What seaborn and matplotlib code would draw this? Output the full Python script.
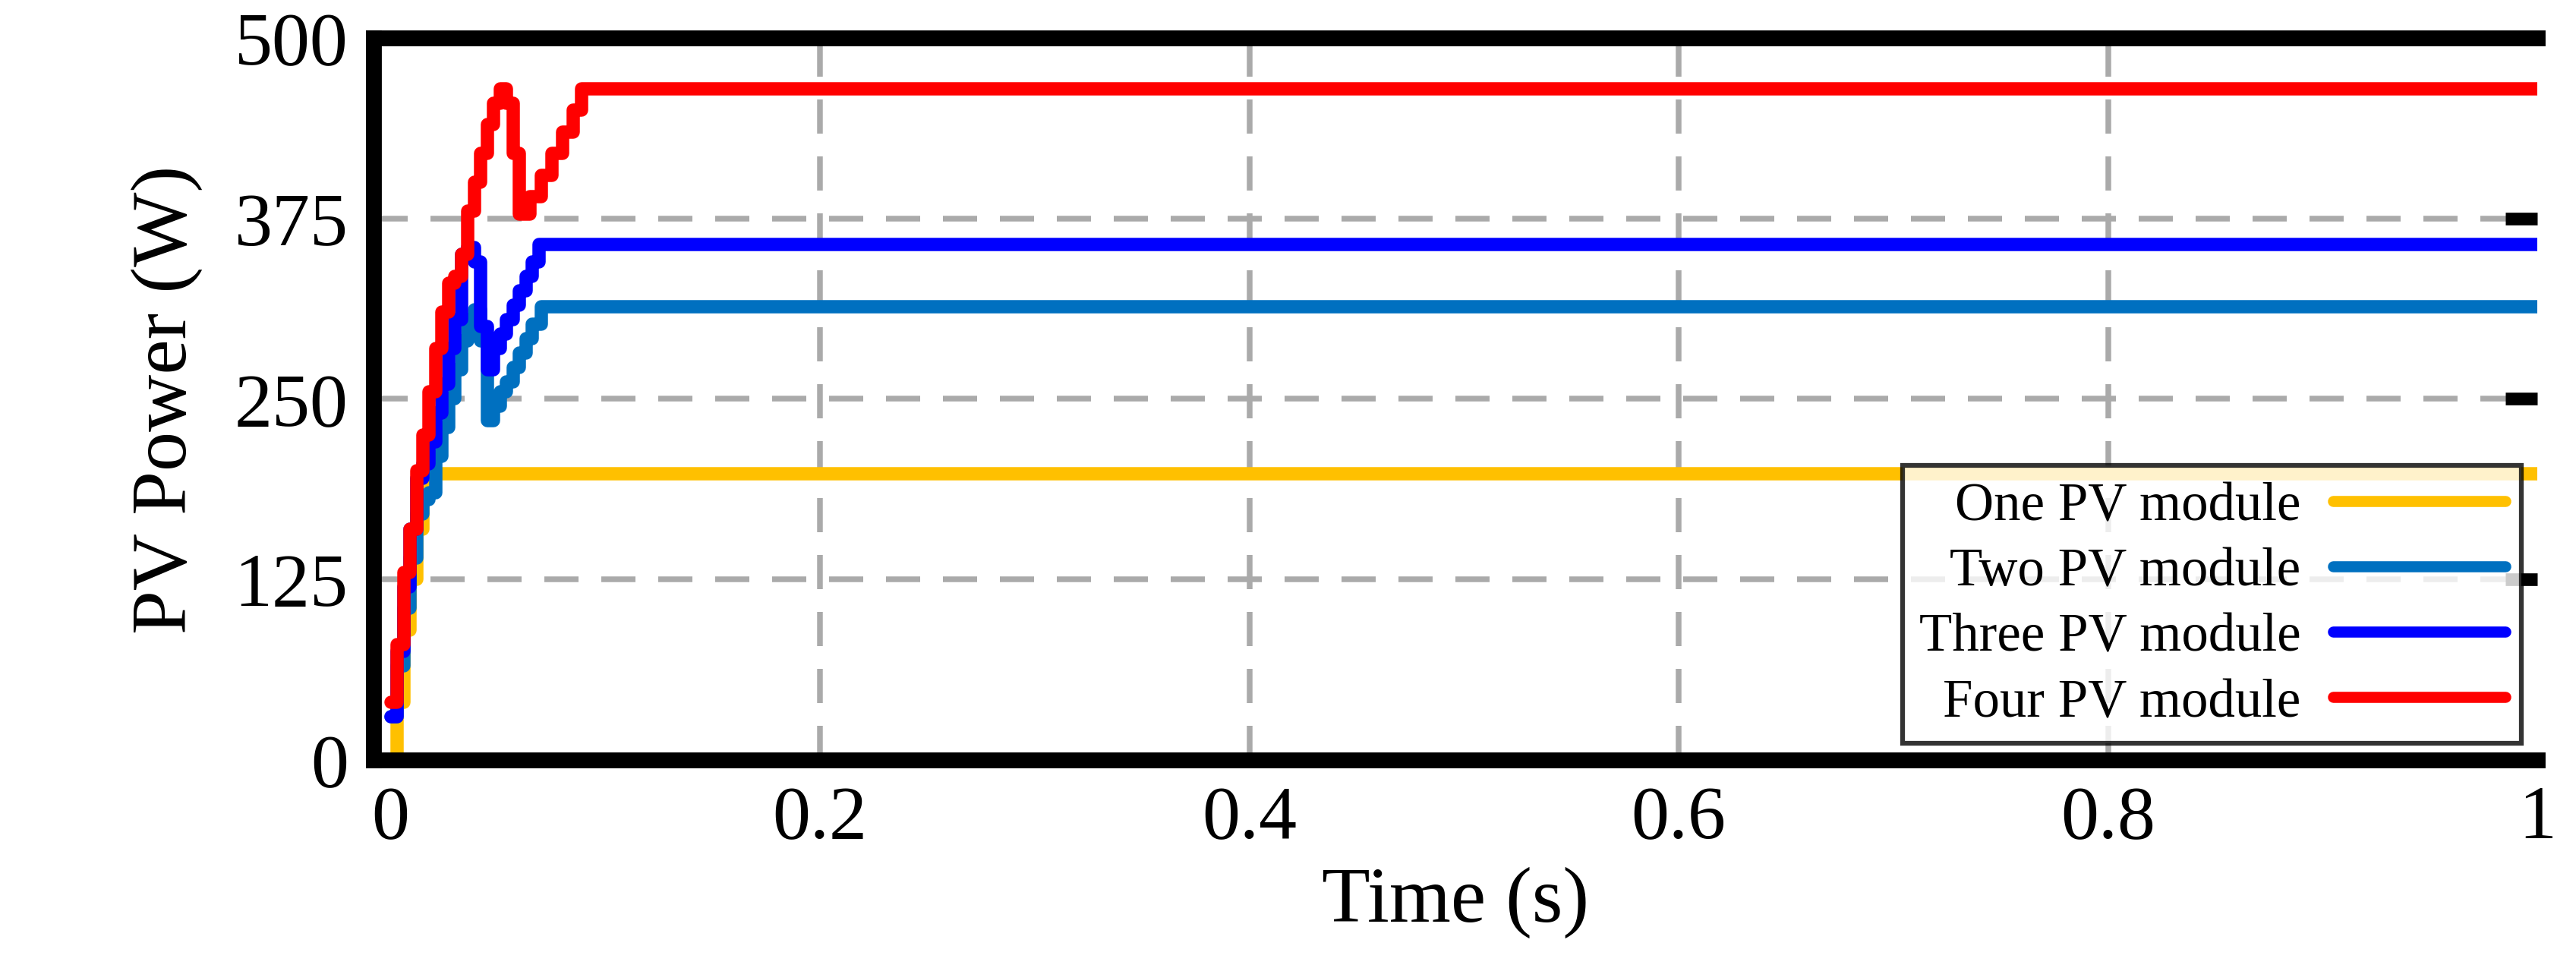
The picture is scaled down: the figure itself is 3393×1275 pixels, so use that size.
import matplotlib
matplotlib.use("Agg")
import matplotlib.pyplot as plt
import seaborn as sns
import pandas as pd

# ---- data ----
t_one = [0.0, 0.003, 0.006, 0.009, 0.012, 0.015, 0.017, 1.0]
p_one = [0, 40, 90, 125, 160, 185, 198, 198]

t_two = [0.0, 0.003, 0.006, 0.009, 0.012, 0.015, 0.018, 0.021, 0.024, 0.027,
         0.030, 0.033, 0.036, 0.039, 0.042, 0.045, 0.048, 0.051, 0.054,
         0.057, 0.060, 0.063, 0.066, 0.070, 1.0]
p_two = [30, 65, 105, 140, 170, 180, 185, 210, 230, 250, 270, 290, 305,
         312, 290, 235, 245, 255, 262, 272, 282, 292, 302, 314, 314]

t_three = [0.0, 0.003, 0.006, 0.009, 0.012, 0.015, 0.018, 0.021, 0.024,
           0.027, 0.030, 0.033, 0.036, 0.039, 0.042, 0.045, 0.048, 0.051,
           0.054, 0.057, 0.060, 0.063, 0.066, 0.069, 1.0]
p_three = [30, 75, 120, 160, 195, 205, 220, 240, 260, 285, 305, 350, 355,
           345, 300, 270, 285, 295, 305, 315, 325, 335, 345, 357, 357]

t_four = [0.0, 0.003, 0.006, 0.009, 0.012, 0.015, 0.018, 0.021, 0.024, 0.027,
          0.030, 0.033, 0.036, 0.039, 0.042, 0.045, 0.048, 0.051, 0.054,
          0.057, 0.060, 0.065, 0.070, 0.075, 0.080, 0.085, 0.089, 1.0]
p_four = [40, 80, 130, 160, 200, 225, 255, 285, 310, 330, 335, 350, 380,
          400, 420, 440, 455, 465, 455, 420, 378, 390, 405, 420, 435, 450,
          465, 465]

labels = ["One PV module", "Two PV module", "Three PV module", "Four PV module"]
colors = ["#FFC000", "#0070C0", "#0000FF", "#FF0000"]
series = [(t_one, p_one), (t_two, p_two), (t_three, p_three), (t_four, p_four)]

x_ticks = [0, 0.2, 0.4, 0.6, 0.8, 1]
x_tick_labels = ["0", "0.2", "0.4", "0.6", "0.8", "1"]
y_ticks = [0, 125, 250, 375, 500]

# ---- style ----
sns.set_theme(style="white")
plt.rcParams["font.family"] = ["Liberation Serif", "DejaVu Serif"]
plt.rcParams["text.color"] = "black"
plt.rcParams["axes.labelcolor"] = "black"
plt.rcParams["xtick.color"] = "black"
plt.rcParams["ytick.color"] = "black"

fig, ax = plt.subplots(figsize=(11.31, 4.253), dpi=300)

for (t, p), lab, col in zip(series, labels, colors):
    df = pd.DataFrame({"t": t, "p": p})
    sns.lineplot(data=df, x="t", y="p", ax=ax, color=col, linewidth=4.2,
                 drawstyle="steps-post", label=lab, estimator=None, sort=False)

ax.set_xlim(-0.008, 1.0)
ax.set_ylim(0, 500)
ax.set_xticks(x_ticks)
ax.set_xticklabels(x_tick_labels)
ax.set_yticks(y_ticks)

for v in [0.2, 0.4, 0.6, 0.8]:
    ax.axvline(v, color="#AAAAAA", linestyle=(0, (6, 4)), linewidth=1.8, zorder=0)
for v in [125, 250, 375]:
    ax.axhline(v, color="#AAAAAA", linestyle=(0, (6, 4)), linewidth=1.8, zorder=0)

for side in ["left", "top", "bottom"]:
    ax.spines[side].set_linewidth(5)
    ax.spines[side].set_color("black")
ax.spines["right"].set_visible(False)
ax.tick_params(axis="both", direction="in", length=10, width=4, labelsize=24,
               right=True, top=False, bottom=False, pad=8)

ax.set_xlabel("Time (s)", fontsize=25, labelpad=4)
ax.set_ylabel("PV Power (W)", fontsize=25, labelpad=10)

leg = ax.legend(loc="lower right", fontsize=17, markerfirst=False,
                frameon=True, fancybox=False, handlelength=3.2,
                borderaxespad=0.3, labelspacing=0.3, handletextpad=0.6,
                borderpad=0.3)
leg.get_frame().set_edgecolor("black")
leg.get_frame().set_linewidth(1.5)
for line in leg.get_lines():
    line.set_linewidth(3.5)

plt.subplots_adjust(left=0.145, right=0.985, top=0.96, bottom=0.215)
fig.savefig("out.png", dpi=300)
